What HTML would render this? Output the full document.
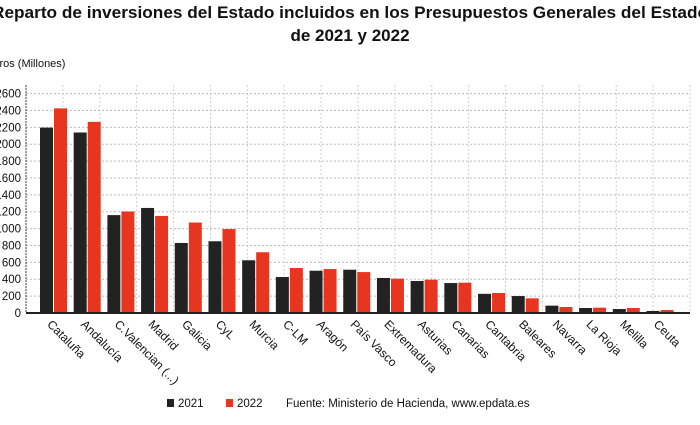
<!DOCTYPE html>
<html><head><meta charset="utf-8"><style>
body{margin:0;background:#fff;width:700px;height:420px;overflow:hidden;font-family:"Liberation Sans",sans-serif;}
</style></head><body>
<svg width="700" height="420" viewBox="0 0 700 420" font-family="Liberation Sans, sans-serif">
<text x="350" y="18" text-anchor="middle" font-size="17" font-weight="bold" fill="#111" textLength="716" lengthAdjust="spacingAndGlyphs">Reparto de inversiones del Estado incluidos en los Presupuestos Generales del Estado</text>
<text x="350" y="41" text-anchor="middle" font-size="17" font-weight="bold" fill="#111">de 2021 y 2022</text>
<text x="-14" y="67" font-size="11" fill="#111">Euros (Millones)</text>
<g id="grid"></g><g id="bars"></g><g id="axes"></g><g id="labels"></g>
<g>
<rect x="167" y="399" width="7" height="8" fill="#222"/>
<text x="178" y="407" font-size="11.5" fill="#111">2021</text>
<rect x="226" y="399" width="7" height="8" fill="#e8351f"/>
<text x="237" y="407" font-size="11.5" fill="#111">2022</text>
<text x="286" y="407" font-size="11.5" fill="#111">Fuente: Ministerio de Hacienda, www.epdata.es</text>
</g>
</svg>
<script>
const categories=["Cataluña","Andalucía","C.Valencian (...)","Madrid","Galicia","CyL","Murcia","C-LM","Aragón","País Vasco","Extremadura","Asturias","Canarias","Cantabria","Baleares","Navarra","La Rioja","Melilla","Ceuta"];
const values2021=[2197,2139,1160,1245,830,850,625,427,501,513,415,379,355,227,201,87,59,47,24];
const values2022=[2425,2265,1203,1150,1072,995,720,533,521,485,407,395,359,237,174,71,63,59,35];
const yTicks=[0,200,400,600,800,1000,1200,1400,1600,1800,2000,2200,2400,2600];
const NS="http://www.w3.org/2000/svg";
const x0=26,x1=690,yBase=313,pxPer=219.4/2600;
const y=v=>yBase-v*pxPer;
const xc=i=>53.5+i*(x1-x0-27.5-30)/(categories.length-1);
function mk(tag,at,parent){const e=document.createElementNS(NS,tag);for(const k in at)e.setAttribute(k,at[k]);parent.appendChild(e);return e;}
const grid=document.getElementById('grid'),bars=document.getElementById('bars'),axes=document.getElementById('axes'),labels=document.getElementById('labels');
yTicks.forEach(t=>{
  if(t>0){const l=mk('line',{x1:x0,x2:x1,y1:y(t),y2:y(t),stroke:'#bbb','stroke-dasharray':'2,2'},grid);
  
  }
  const tx=mk('text',{x:21,y:y(t)+4,'text-anchor':'end','font-size':'11.5',fill:'#111'},axes);
  tx.textContent=t;
  
  
});
for(let k=1;k<=18;k++){const gx=x0+k*(x1-x0)/18;
  const l=mk('line',{x1:gx,x2:gx,y1:y(2700),y2:yBase,stroke:'#ccc','stroke-dasharray':'2,2'},grid);
  
  }
categories.forEach((c,i)=>{
  const cx=xc(i);
  const b1=mk('rect',{x:cx-13.5,y:y(values2021[i]),width:13,height:yBase-y(values2021[i]),fill:'#222'},bars);
  
  
  const b2=mk('rect',{x:cx+0.5,y:y(values2022[i]),width:13,height:yBase-y(values2022[i]),fill:'#e8351f'},bars);
  
  
  const t=mk('text',{x:cx-7,y:yBase+12,'font-size':'12',fill:'#111',transform:`rotate(45 ${cx-7} ${yBase+12})`},labels);
  t.textContent=c;
  
  
});
const ax=mk('line',{x1:x0,x2:x0,y1:y(2700),y2:yBase,stroke:'#333','stroke-dasharray':'2,1'},axes);


const bx=mk('line',{x1:x0,x2:x1,y1:yBase,y2:yBase,stroke:'#222','stroke-width':2},axes);


</script>
</body></html>
